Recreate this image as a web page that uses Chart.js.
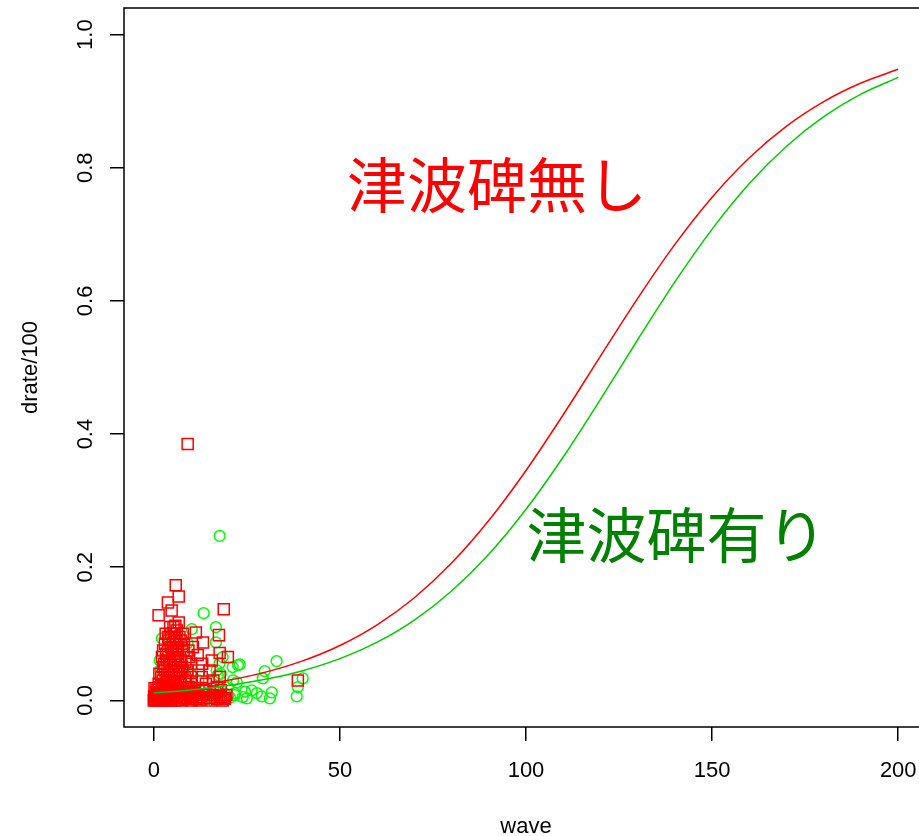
<!DOCTYPE html>
<html lang="ja">
<head>
<meta charset="UTF-8">
<title>drate vs wave</title>
<script src="https://cdn.jsdelivr.net/npm/chart.js"></script>
<style>
    html, body {
        margin: 0;
        padding: 0;
        background: #ffffff;
        overflow: hidden;
    }
    #chart {
        display: block;
    }
</style>
</head>
<body>
<canvas id="chart" width="919" height="836"></canvas>

<script>
    // tick labels
    const xTicks = [0, 50, 100, 150, 200];
    const yTicks = [0.0, 0.2, 0.4, 0.6, 0.8, 1.0];
    const yTickLabels = ['0.0', '0.2', '0.4', '0.6', '0.8', '1.0'];

    // observations without a monument (red squares)
    const redWave = [
        0, 0.3, 0.5, 0.8, 1, 1.2, 1.5, 1.8, 2, 2.2, 2.5, 2.8, 3, 3.2, 3.5, 3.8, 4, 4.2, 4.5, 4.8,
        5, 5.3, 5.6, 6, 6.3, 6.6, 7, 7.3, 7.6, 8, 8.4, 8.8, 9.2, 9.6, 10, 10.5, 11, 11.5, 12, 12.5,
        13, 13.5, 14, 15, 16, 17, 18, 19, 0.2, 1.3, 2.4, 0.6,
        0.1, 0.4, 0.7, 0.9, 1.1, 1.4, 1.6, 1.9, 2.1, 2.3, 2.6, 2.9, 3.1, 3.4, 3.6, 3.9, 4.1, 4.3, 4.6, 4.9,
        5.1, 5.4, 5.8, 6.1, 6.5, 6.9, 7.2, 7.5, 7.9, 8.2, 8.6, 9, 9.4, 9.8, 10.2, 10.8, 11.3, 11.8, 12.3, 13.2,
        14.5, 15.5, 16.5, 17.5, 18.5, 19.5,
        2, 2.5, 3, 3.5, 3.8, 4, 4.2, 4.5, 4.7, 5, 5.2, 5.5, 5.7, 6, 6.2, 6.5, 6.8, 7, 7.3, 7.6,
        8, 8.3, 3.2, 4.4, 5.8, 3, 2.2, 1.5, 8.5, 9, 7.8,
        2.5, 3.3, 3.6, 4.1, 4.6, 5.1, 5.4, 5.9, 6.4, 6.9, 7.4, 8.1, 2.8, 3.9, 4.9, 5.6, 6.3, 7.1, 7.7, 8.6,
        9.3, 10.2, 4.3, 5.3, 6.1,
        5.9, 6.7, 3.8, 1.3, 4.8, 18.8, 6.7, 13.2, 11.3, 17.5, 17.7, 19.9, 15.6, 11.8, 38.7, 12.9,
        17.7, 19.1, 9.1, 10, 12, 14, 16, 10.5, 9.5, 18, 15, 13, 17
    ];
    const redRate = [
        0, 0.002, 0.005, 0.001, 0.008, 0.003, 0.012, 0, 0.004, 0.015, 0.007, 0.02, 0.001, 0.01, 0.025, 0.005, 0.014, 0.002, 0.018, 0.008,
        0.028, 0.003, 0.012, 0.022, 0.006, 0.016, 0.001, 0.026, 0.01, 0.004, 0.019, 0.008, 0.002, 0.014, 0.025, 0.006, 0.011, 0.002, 0.018, 0.005,
        0.009, 0.003, 0.014, 0.004, 0.008, 0.002, 0.005, 0.003, 0.018, 0.025, 0.03, 0.012,
        0.006, 0.0, 0.016, 0.01, 0.0, 0.02, 0.005, 0.012, 0.022, 0.0, 0.013, 0.004, 0.017, 0.0, 0.009, 0.021, 0.006, 0.026, 0.0, 0.015,
        0.005, 0.019, 0.0, 0.011, 0.024, 0.004, 0.013, 0.0, 0.018, 0.009, 0.003, 0.012, 0.02, 0.005, 0.0, 0.014, 0.003, 0.009, 0.0, 0.015,
        0.008, 0.0, 0.012, 0.006, 0.0, 0.008,
        0.035, 0.05, 0.045, 0.06, 0.075, 0.04, 0.09, 0.055, 0.1, 0.07, 0.085, 0.045, 0.095, 0.06, 0.105, 0.08, 0.04, 0.065, 0.09, 0.05,
        0.075, 0.035, 0.1, 0.11, 0.112, 0.085, 0.065, 0.04, 0.058, 0.045, 0.1,
        0.075, 0.07, 0.04, 0.06, 0.08, 0.05, 0.1, 0.075, 0.045, 0.095, 0.06, 0.085, 0.055, 0.095, 0.035, 0.065, 0.07, 0.035, 0.045, 0.03,
        0.075, 0.035, 0.03, 0.11, 0.09,
        0.173, 0.156, 0.147, 0.128, 0.135, 0.137, 0.117, 0.087, 0.102, 0.098, 0.071, 0.065, 0.06, 0.068, 0.03, 0.035,
        0.035, 0.003, 0.385, 0.055, 0.045, 0.025, 0.03, 0.08, 0.065, 0.015, 0.045, 0.055, 0.02
    ];

    // observations with a monument (green circles)
    const greenWave = [
        13.4, 16.7, 10.2, 2.2, 9.1, 16.7, 18.5, 1.6, 1.9, 22.6, 23.1, 33, 29.8, 29.3, 21.3, 16.9, 40, 38.7, 38.4, 26.3,
        27.7, 29, 31.7, 31.2, 23.9, 21.8, 12.9, 15, 17.7,
        1, 3, 5, 7, 4, 8, 11, 12, 14, 18, 19, 20, 20.5, 16, 10, 6, 0.5, 2.5, 24.5, 25, 9.5,
        17.7, 17.2, 21.2, 22.3, 21.8, 15.6, 13.2, 17, 20
    ];
    const greenRate = [
        0.131, 0.11, 0.107, 0.093, 0.086, 0.087, 0.065, 0.06, 0.047, 0.053, 0.054, 0.059, 0.044, 0.033, 0.03, 0.045, 0.033, 0.02, 0.006, 0.015,
        0.011, 0.006, 0.012, 0.003, 0.005, 0.008, 0.003, 0.005, 0.247,
        0.02, 0.03, 0.01, 0.05, 0.07, 0.02, 0.015, 0.03, 0.01, 0.04, 0.01, 0.02, 0.004, 0.018, 0.04, 0.09, 0.005, 0.01, 0.013, 0.003, 0.013,
        0.056, 0.038, 0.05, 0.027, 0.011, 0.012, 0.0, 0.008, 0.008
    ];

    // fitted curves
    const curveWave = [0, 10, 20, 30, 40, 50, 60, 70, 80, 90, 100, 110, 120, 130, 140, 150, 160, 170, 180, 190, 200];
    const redFit = [0.0151, 0.0213, 0.0301, 0.0424, 0.0593, 0.0824, 0.1135, 0.1542, 0.2062, 0.2701, 0.3453,
        0.4290, 0.5170, 0.6039, 0.6849, 0.7558, 0.8151, 0.8627, 0.8995, 0.9273, 0.9479];
    const greenFit = [0.0110, 0.0157, 0.0223, 0.0316, 0.0446, 0.0627, 0.0874, 0.1206, 0.1642, 0.2194, 0.2870,
        0.3656, 0.4521, 0.5417, 0.6286, 0.7079, 0.7763, 0.8324, 0.8767, 0.9106, 0.9358];

    // in-plot labels
    const noMonumentLabel = '津波碑無し';
    const withMonumentLabel = '津波碑有り';

    const toPoints = (xs, ys) => xs.map((x, i) => ({ x: x, y: ys[i] }));

    const axisFont = '22px "Liberation Sans", Arial, sans-serif';
    const cjkFont = '60px "Noto Sans CJK JP", sans-serif';

    // draws the box (its right side is off the page), tick labels, axis titles and the two labels
    const rFrame = {
        id: 'rFrame',
        afterDraw(chart) {
            const ctx = chart.ctx;
            const a = chart.chartArea;
            const xs = chart.scales.x;
            const ys = chart.scales.y;
            ctx.save();

            ctx.strokeStyle = '#000';
            ctx.lineWidth = 1.5;
            ctx.beginPath();
            ctx.moveTo(chart.width + 2, a.top);
            ctx.lineTo(a.left, a.top);
            ctx.lineTo(a.left, a.bottom);
            ctx.lineTo(chart.width + 2, a.bottom);
            ctx.stroke();

            ctx.fillStyle = '#000';
            ctx.font = axisFont;
            ctx.textAlign = 'center';
            ctx.textBaseline = 'alphabetic';
            xTicks.forEach(v => {
                ctx.fillText(String(v), xs.getPixelForValue(v), 777);
            });
            ctx.fillText('wave', xs.getPixelForValue(100), 833);

            yTicks.forEach((v, i) => {
                ctx.save();
                ctx.translate(92, ys.getPixelForValue(v));
                ctx.rotate(-Math.PI / 2);
                ctx.fillText(yTickLabels[i], 0, 0);
                ctx.restore();
            });
            ctx.save();
            ctx.translate(37, (a.top + a.bottom) / 2);
            ctx.rotate(-Math.PI / 2);
            ctx.fillText('drate/100', 0, 0);
            ctx.restore();

            ctx.font = cjkFont;
            ctx.textBaseline = 'middle';
            ctx.fillStyle = '#ff0000';
            ctx.fillText(noMonumentLabel, xs.getPixelForValue(92.2), ys.getPixelForValue(0.774));
            ctx.fillStyle = '#008000';
            ctx.fillText(withMonumentLabel, xs.getPixelForValue(140.4), ys.getPixelForValue(0.248));

            ctx.restore();
        }
    };

    const ctx = document.getElementById('chart').getContext('2d');
    new Chart(ctx, {
        type: 'scatter',
        data: {
            datasets: [
                {
                    label: 'green points',
                    data: toPoints(greenWave, greenRate),
                    pointStyle: 'circle',
                    pointRadius: 5.4,
                    pointBorderWidth: 1.5,
                    borderColor: '#00ff00',
                    backgroundColor: 'rgba(0,0,0,0)',
                    order: 4
                },
                {
                    label: 'red points',
                    data: toPoints(redWave, redRate),
                    pointStyle: 'rect',
                    pointRadius: 7.8,
                    pointBorderWidth: 1.5,
                    borderColor: '#ff0000',
                    backgroundColor: 'rgba(0,0,0,0)',
                    order: 3
                },
                {
                    label: 'red fit',
                    data: toPoints(curveWave, redFit),
                    showLine: true,
                    pointRadius: 0,
                    borderColor: '#ff0000',
                    borderWidth: 1.5,
                    cubicInterpolationMode: 'monotone',
                    order: 2
                },
                {
                    label: 'green fit',
                    data: toPoints(curveWave, greenFit),
                    showLine: true,
                    pointRadius: 0,
                    borderColor: '#00cc00',
                    borderWidth: 1.5,
                    cubicInterpolationMode: 'monotone',
                    order: 1
                }
            ]
        },
        options: {
            responsive: false,
            maintainAspectRatio: false,
            animation: false,
            devicePixelRatio: 1,
            layout: {
                autoPadding: false,
                padding: { left: 0, top: 8, right: 0, bottom: 0 }
            },
            plugins: {
                legend: { display: false },
                tooltip: { enabled: false }
            },
            scales: {
                x: {
                    type: 'linear',
                    min: -8,
                    max: 205.58, // R's range runs to 208, the page cuts it at 919px
                    afterBuildTicks: s => { s.ticks = xTicks.map(v => ({ value: v })); },
                    afterFit: s => { s.height = 109; },
                    ticks: { display: false },
                    border: { display: false },
                    grid: {
                        drawOnChartArea: false,
                        drawTicks: true,
                        tickLength: 14,
                        color: '#000',
                        lineWidth: 1.5
                    }
                },
                y: {
                    type: 'linear',
                    min: -0.04,
                    max: 1.04,
                    afterBuildTicks: s => { s.ticks = yTicks.map(v => ({ value: v })); },
                    afterFit: s => { s.width = 124; },
                    ticks: { display: false },
                    border: { display: false },
                    grid: {
                        drawOnChartArea: false,
                        drawTicks: true,
                        tickLength: 14,
                        color: '#000',
                        lineWidth: 1.5
                    }
                }
            }
        },
        plugins: [rFrame]
    });
</script>
</body>
</html>
